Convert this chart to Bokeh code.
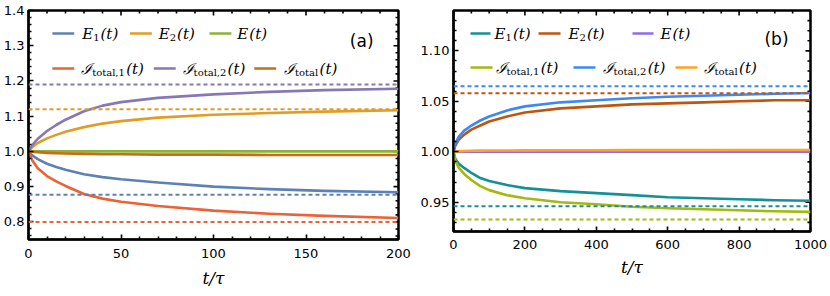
from bokeh.plotting import figure
from bokeh.layouts import row
from bokeh.models import Range1d, LinearAxis, FixedTicker, PrintfTickFormatter, Span, Label, Arrow
from bokeh.embed import file_html
from bokeh.resources import INLINE

# ---------------- panel (a) data ----------------
t_a = [0, 2, 5, 10, 15, 20, 30, 40, 50, 70, 100, 130, 160, 200]
a_E1 = [1.0, 0.989, 0.978, 0.965, 0.956, 0.948, 0.935, 0.927, 0.921, 0.912, 0.900, 0.893, 0.888, 0.884]
a_E2 = [1.0, 1.012, 1.024, 1.037, 1.047, 1.056, 1.069, 1.079, 1.086, 1.096, 1.104, 1.109, 1.113, 1.117]
a_E = [1.0, 1.0, 1.0, 1.0, 1.0, 1.0, 1.0, 1.0, 1.0, 1.0, 1.0, 1.0, 1.0, 1.0]
a_I1 = [1.0, 0.975, 0.952, 0.930, 0.915, 0.902, 0.879, 0.866, 0.857, 0.845, 0.832, 0.823, 0.817, 0.811]
a_I2 = [1.0, 1.018, 1.036, 1.058, 1.075, 1.090, 1.114, 1.130, 1.140, 1.152, 1.162, 1.169, 1.174, 1.178]
a_It = [1.0, 0.999, 0.998, 0.996, 0.995, 0.994, 0.993, 0.992, 0.992, 0.991, 0.991, 0.990, 0.990, 0.990]
# asymptotes (dashed): E1, E2, I1, I2
a_asym = [0.877, 1.12, 0.80, 1.19]

# ---------------- panel (b) data ----------------
t_b = [0, 5, 15, 30, 50, 75, 100, 150, 200, 300, 400, 500, 600, 700, 800, 900, 1000]
b_E1 = [1.0, 0.993, 0.988, 0.984, 0.979, 0.974, 0.971, 0.967, 0.964, 0.961, 0.959, 0.957, 0.955, 0.954, 0.953, 0.952, 0.9515]
b_E2 = [1.0, 1.006, 1.012, 1.017, 1.022, 1.026, 1.030, 1.035, 1.039, 1.043, 1.045, 1.047, 1.048, 1.049, 1.050, 1.051, 1.051]
b_E = [1.0, 1.0, 1.0, 1.0, 1.0, 1.0, 1.0, 1.0, 1.0, 1.0, 1.0, 1.0, 1.0, 1.0, 1.0, 1.0, 1.0]
b_I1 = [1.0, 0.991, 0.984, 0.978, 0.972, 0.966, 0.962, 0.957, 0.954, 0.950, 0.948, 0.9455, 0.944, 0.943, 0.942, 0.941, 0.9404]
b_I2 = [1.0, 1.008, 1.015, 1.021, 1.026, 1.031, 1.035, 1.041, 1.045, 1.049, 1.051, 1.053, 1.0545, 1.0555, 1.0565, 1.0575, 1.0583]
b_It = [1.0, 1.0003, 1.0006, 1.0008, 1.001, 1.0011, 1.0012, 1.0013, 1.0014, 1.0015, 1.0015, 1.0016, 1.0016, 1.0016, 1.0017, 1.0017, 1.0017]
b_asym = [0.946, 1.058, 0.933, 1.065]

# ticks
a_xticks = [0, 50, 100, 150, 200]
a_xminor = [10, 20, 30, 40, 60, 70, 80, 90, 110, 120, 130, 140, 160, 170, 180, 190]
a_yticks = [0.8, 0.9, 1.0, 1.1, 1.2, 1.3, 1.4]
a_yminor = [0.76, 0.78, 0.82, 0.84, 0.86, 0.88, 0.92, 0.94, 0.96, 0.98, 1.02, 1.04, 1.06, 1.08,
            1.12, 1.14, 1.16, 1.18, 1.22, 1.24, 1.26, 1.28, 1.32, 1.34, 1.36, 1.38]
b_xticks = [0, 200, 400, 600, 800, 1000]
b_xminor = [50, 100, 150, 250, 300, 350, 450, 500, 550, 650, 700, 750, 850, 900, 950]
b_yticks = [0.95, 1.00, 1.05, 1.10]
b_yminor = [0.93, 0.94, 0.96, 0.97, 0.98, 0.99, 1.01, 1.02, 1.03, 1.04, 1.06, 1.07, 1.08, 1.09, 1.11, 1.12, 1.13]

cols_a = ["#5E81B5", "#E19C24", "#8FB032", "#EB6235", "#8778B3", "#C56E1A"]
cols_b = ["#14909A", "#BE5511", "#8E6BEA", "#A4B80E", "#3D88F4", "#FEA324"]

TICK_FONT = "DejaVu Sans"
MATH_FONT = "DejaVu Serif"

SUBW = {"t": 0.42, "o": 0.60, "a": 0.60, "l": 0.32, ",": 0.32, "1": 0.64, "2": 0.64}
BOTTOM = 57


def make_panel(width, height, geom, xr, yr, xt, xm, yt, ym, yfmt, series, t, cols, asym,
               asym_cols, legend, tag, tagpos, tick_standoff, xlabel_standoff):
    fl, fr, ft, ox = geom  # frame edges in picture px, figure left offset
    fb = height - BOTTOM
    p = figure(width=width, height=height, output_backend="svg", toolbar_location=None,
               x_range=Range1d(*xr), y_range=Range1d(*yr),
               min_border_left=fl - ox, min_border_right=ox + width - fr,
               min_border_top=ft, min_border_bottom=BOTTOM,
               x_axis_location=None, y_axis_location=None)
    p.grid.visible = False
    p.outline_line_color = "black"
    p.outline_line_width = 2.5
    p.background_fill_color = "white"
    p.border_fill_color = "white"

    # pixel -> data helpers
    sx = (xr[1] - xr[0]) / (fr - fl)
    sy = (yr[1] - yr[0]) / (fb - ft)

    def dx(px):
        return xr[0] + (px - fl) * sx

    def dy(py):
        return yr[1] - (py - ft) * sy

    xtk = FixedTicker(ticks=xt, minor_ticks=xm)
    ytk = FixedTicker(ticks=yt, minor_ticks=ym)
    axb = LinearAxis(ticker=xtk)
    p.add_layout(axb, "below")
    axl = LinearAxis(ticker=ytk, formatter=PrintfTickFormatter(format=yfmt))
    p.add_layout(axl, "left")
    for ax in (axb, axl):
        ax.axis_line_color = "black"
        ax.axis_line_width = 2
        ax.major_tick_in = 5
        ax.major_tick_out = 0
        ax.minor_tick_in = 3
        ax.minor_tick_out = 0
        ax.major_tick_line_width = 1.6
        ax.minor_tick_line_width = 1.6
        ax.major_tick_line_color = "black"
        ax.minor_tick_line_color = "black"
        ax.major_label_text_font = TICK_FONT
        ax.major_label_text_font_size = "13px"
        ax.major_label_text_color = "black"
    axb.major_label_standoff = tick_standoff
    axl.major_label_standoff = 4
    axb.axis_label = "t/τ"
    axb.axis_label_text_font = MATH_FONT
    axb.axis_label_text_font_style = "italic"
    axb.axis_label_text_font_size = "17px"
    axb.axis_label_standoff = xlabel_standoff
    axb.axis_label_text_color = "black"

    # inward ticks on top and right edges, from the same tick lists
    for ticks, ln in ((xt, 5), (xm, 3)):
        p.segment(x0=ticks, x1=ticks, y0=[yr[1]] * len(ticks), y1=[yr[1] - ln * sy] * len(ticks),
                  line_color="black", line_width=1.6)
    for ticks, ln in ((yt, 5), (ym, 3)):
        p.segment(x0=[xr[1]] * len(ticks), x1=[xr[1] - ln * sx] * len(ticks), y0=ticks, y1=ticks,
                  line_color="black", line_width=1.6)

    # dashed asymptotes
    for v, c in zip(asym, asym_cols):
        p.add_layout(Span(location=v, dimension="width", line_color=c, line_width=2,
                          line_dash="4 3"))
    # curves
    for ys, c in zip(series, cols):
        p.line(t, ys, line_color=c, line_width=2.6, line_join="round")

    # legend drawn manually (subscripts)
    for (main, sub, s0, s1, tx, ty, c) in legend:
        p.add_layout(Arrow(x_start=dx(s0), y_start=dy(ty), x_end=dx(s1), y_end=dy(ty),
                           start=None, end=None, line_color=c, line_width=2.6))
        x = tx
        p.add_layout(Label(x=dx(x), y=dy(ty), text=main, text_font=MATH_FONT,
                           text_font_style="italic", text_font_size="15px",
                           text_baseline="middle", text_color="black"))
        x += 11
        if sub:
            p.add_layout(Label(x=dx(x), y=dy(ty + 4), text=sub, text_font=MATH_FONT,
                               text_font_size="10px", text_baseline="middle",
                               text_color="black"))
            x += sum(SUBW.get(ch, 0.6) for ch in sub) * 10 + 1
        else:
            x += 1
        p.add_layout(Label(x=dx(x), y=dy(ty), text="(t)", text_font=MATH_FONT,
                           text_font_style="italic", text_font_size="15px",
                           text_baseline="middle", text_color="black"))
    p.add_layout(Label(x=dx(tagpos[0]), y=dy(tagpos[1]), text=tag, text_font=TICK_FONT,
                       text_font_size="17px", text_align="center", text_baseline="middle",
                       text_color="black"))
    return p


legend_a = [
    ("E", "1", 50, 72, 80, 33, cols_a[0]),
    ("E", "2", 128, 150, 157, 33, cols_a[1]),
    ("E", "", 208, 230, 236, 33, cols_a[2]),
    ("ℐ", "total,1", 50, 72, 79, 68, cols_a[3]),
    ("ℐ", "total,2", 152, 174, 181, 68, cols_a[4]),
    ("ℐ", "total", 253, 275, 283, 68, cols_a[5]),
]
legend_b = [
    ("E", "1", 470, 490, 494, 33, cols_b[0]),
    ("E", "2", 538, 560, 568, 33, cols_b[1]),
    ("E", "", 632, 653, 660, 33, cols_b[2]),
    ("ℐ", "total,1", 470, 492, 495, 67, cols_b[3]),
    ("ℐ", "total,2", 573, 595, 602, 67, cols_b[4]),
    ("ℐ", "total", 675, 697, 703, 67, cols_b[5]),
]

p1 = make_panel(416, 296, (26, 398, 10, 0), (0, 200), (0.75, 1.4),
                a_xticks, a_xminor, a_yticks, a_yminor, "%.1f",
                [a_E1, a_E2, a_E, a_I1, a_I2, a_It], t_a, cols_a,
                a_asym, [cols_a[0], cols_a[1], cols_a[3], cols_a[4]],
                legend_a, "(a)", (361, 40), 9, 7)
p2 = make_panel(414, 288, (453, 810, 10, 416), (0, 1000), (0.921, 1.14),
                b_xticks, b_xminor, b_yticks, b_yminor, "%.2f",
                [b_E1, b_E2, b_E, b_I1, b_I2, b_It], t_b, cols_b,
                b_asym, [cols_b[0], cols_b[1], cols_b[3], cols_b[4]],
                legend_b, "(b)", (776, 38), 8, 5)

layout = row(p1, p2)
open("out.html", "w").write(file_html(layout, INLINE))
